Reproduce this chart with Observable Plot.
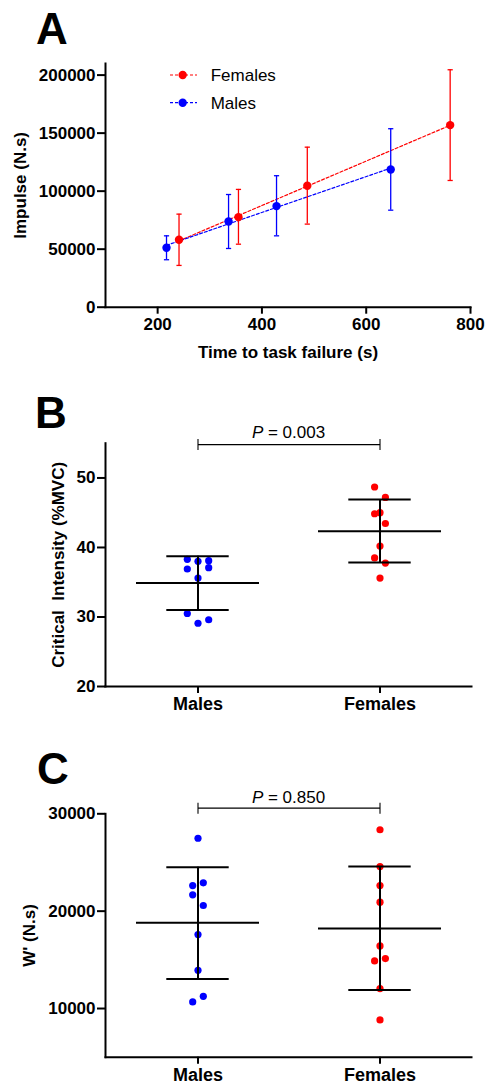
<!DOCTYPE html>
<html><head><meta charset="utf-8">
<script src="https://cdn.jsdelivr.net/npm/d3@7"></script>
<script src="https://cdn.jsdelivr.net/npm/@observablehq/plot@0.6"></script>
<style>
body{margin:0;background:#fff;}
#wrap{position:relative;width:487px;height:1084px;font-family:"Liberation Sans",Arial,sans-serif;}
#wrap > svg{position:absolute;left:0;}
</style></head><body><div id="wrap"></div>
<script>
// ---------- Panel A data ----------
const timeFemales = [241, 355, 487, 761];
const impulseFemales = [58100, 77600, 104600, 156900];
const impulseFemalesLow = [36000, 54300, 71600, 109200];
const impulseFemalesHigh = [80200, 101500, 137900, 204600];
const timeMales = [217, 336, 428, 647];
const impulseMales = [51200, 73900, 87100, 118700];
const impulseMalesLow = [40900, 50600, 61500, 83600];
const impulseMalesHigh = [61500, 97100, 113300, 153800];
const seriesA = ["Females", "Males"];
const ticksAX = [200, 400, 600, 800];
const ticksAY = [0, 50000, 100000, 150000, 200000];

// ---------- Panel B data ----------
const groups = ["Males", "Females"];
const ciMales = [38.3, 38.0, 38.1, 36.9, 37.1, 35.6, 30.5, 29.1, 29.6];
const ciMalesLane = [-1, 0, 1, -1, 1, 0, -1, 0, 1];
const ciFemales = [48.7, 47.2, 44.85, 45.0, 43.45, 40.2, 38.5, 37.75, 35.6];
const ciFemalesLane = [-1, 1, -1, 0, 1, 0, -1, 1, 0];
const ciMean = [34.9, 42.35];
const ciSdLow = [31.0, 37.85];
const ciSdHigh = [38.75, 46.9];
const ciP = "P = 0.003";
const ticksB = [20, 30, 40, 50];

// ---------- Panel C data ----------
const wMales = [27490, 22910, 22630, 21680, 20580, 17600, 13930, 11250, 10680];
const wMalesLane = [0, 1, -1, -1, 1, 0, 0, 1, -1];
const wFemales = [28360, 24580, 22630, 20920, 16430, 15130, 14890, 12050, 8830];
const wFemalesLane = [0, 0, 0, 0, 0, 1, -1, 0, 0];
const wMean = [18800, 18210];
const wSdLow = [13040, 11910];
const wSdHigh = [24510, 24580];
const wP = "P = 0.850";
const ticksC = [10000, 20000, 30000];

const RED = "#ff0000", BLUE = "#0000ff";
const FONT = "'Liberation Sans', Arial, sans-serif";
const wrap = document.getElementById("wrap");

const hLine = {draw(ctx, size) { const r = Math.sqrt(size / Math.PI); ctx.moveTo(-r, 0); ctx.lineTo(r, 0); }};
const vLine = {draw(ctx, size) { const r = Math.sqrt(size / Math.PI); ctx.moveTo(0, -r); ctx.lineTo(0, r); }};

const baseStyle = {fontFamily: FONT, fontSize: "17px", fontWeight: "bold", color: "black", background: "transparent", overflow: "visible"};

// ---------- Panel A ----------
const rowsA = [
  ...timeFemales.map((t, i) => ({sex: "Females", t, imp: impulseFemales[i], lo: impulseFemalesLow[i], hi: impulseFemalesHigh[i]})),
  ...timeMales.map((t, i) => ({sex: "Males", t, imp: impulseMales[i], lo: impulseMalesLow[i], hi: impulseMalesHigh[i]}))
];
const plotA = Plot.plot({
  width: 487, height: 370,
  marginLeft: 105, marginRight: 17, marginTop: 63, marginBottom: 63.3,
  style: baseStyle,
  x: {domain: [100, 800]},
  y: {domain: [0, 210000]},
  color: {domain: seriesA, range: [RED, BLUE]},
  marks: [
    Plot.frame({anchor: "left", strokeWidth: 2}),
    Plot.frame({anchor: "bottom", strokeWidth: 2}),
    Plot.axisY({ticks: ticksAY, tickFormat: "d", tickSize: 8, tickPadding: 2, strokeWidth: 2, label: null}),
    Plot.axisX({ticks: ticksAX, tickFormat: "d", tickSize: 7, tickPadding: 4, strokeWidth: 2, label: null}),
    Plot.linearRegressionY(rowsA, {x: "t", y: "imp", stroke: "sex", ci: 0, strokeDasharray: "3,2", strokeWidth: 1.2}),
    Plot.ruleX(rowsA, {x: "t", y1: "lo", y2: "hi", stroke: "sex", strokeWidth: 1.3}),
    Plot.dot(rowsA, {x: "t", y: "lo", symbol: hLine, r: 2.6, stroke: "sex", fill: "none", strokeWidth: 1.3}),
    Plot.dot(rowsA, {x: "t", y: "hi", symbol: hLine, r: 2.6, stroke: "sex", fill: "none", strokeWidth: 1.3}),
    Plot.dot(rowsA, {x: "t", y: "imp", r: 4.2, fill: "sex", stroke: "none"}),
    Plot.text(["Impulse (N.s)"], {text: d => d, frameAnchor: "left", dx: -84.5, rotate: -90, lineAnchor: "middle", textAnchor: "middle"}),
    Plot.text(["Time to task failure (s)"], {text: d => d, frameAnchor: "bottom", dy: 45, lineAnchor: "middle"})
  ]
});
plotA.style.top = "0px";
wrap.appendChild(plotA);

// ---------- Panels B and C ----------
function groupPanel({height, marginTop, marginBottom, domain, ticks, title, titleDx, males, malesLane, femalesLane, females, maleSpacing, femaleSpacing, mean, sdLow, sdHigh, pText, bracketY, pDy}) {
  const rows = [
    ...males.map((v, i) => ({group: "Males", value: v, lane: malesLane[i], color: BLUE})),
    ...females.map((v, i) => ({group: "Females", value: v, lane: femalesLane[i], color: RED}))
  ];
  const stats = groups.map((g, i) => ({group: g, mean: mean[i], lo: sdLow[i], hi: sdHigh[i]}));
  const dots = [];
  for (const g of groups) {
    const sp = g === "Males" ? maleSpacing : femaleSpacing;
    for (const l of [-1, 0, 1]) {
      dots.push(Plot.dot(rows.filter(d => d.group === g && d.lane === l), {x: "group", y: "value", r: 3.6, fill: "color", stroke: "none", dx: l * sp}));
    }
  }
  const bracket = [{a: "Males", b: "Females", y: bracketY}];
  const ends = groups.map(g => ({group: g, y: bracketY}));
  const svg = Plot.plot({
    width: 487, height,
    marginLeft: 105, marginRight: 16, marginTop, marginBottom,
    style: baseStyle,
    x: {type: "band", domain: groups, paddingInner: 0.325, paddingOuter: 0.165},
    y: {domain},
    marks: [
      Plot.frame({anchor: "left", strokeWidth: 2}),
      Plot.frame({anchor: "bottom", strokeWidth: 2}),
      Plot.axisY({ticks, tickFormat: "d", tickSize: 8, tickPadding: 2, strokeWidth: 2, label: null}),
      Plot.axisX({tickSize: 7, tickPadding: 4, strokeWidth: 2, fontSize: 18, label: null}),
      ...dots,
      Plot.tickY(stats, {x: "group", y: "mean", strokeWidth: 2}),
      Plot.tickY(stats, {x: "group", y: "lo", strokeWidth: 2, insetLeft: 30.3, insetRight: 30.3}),
      Plot.tickY(stats, {x: "group", y: "hi", strokeWidth: 2, insetLeft: 30.3, insetRight: 30.3}),
      Plot.ruleX(stats, {x: "group", y1: "lo", y2: "hi", strokeWidth: 2}),
      Plot.link(bracket, {x1: "a", x2: "b", y1: "y", y2: "y", stroke: "black", strokeWidth: 1.1}),
      Plot.dot(ends, {x: "group", y: "y", symbol: vLine, r: 5.5, stroke: "black", fill: "none", strokeWidth: 1.1}),
      Plot.text([pText], {text: d => d, frameAnchor: "top", dy: pDy, lineAnchor: "bottom", fontWeight: "normal", fontSize: 17}),
      Plot.text([title], {text: d => d, frameAnchor: "left", dx: titleDx, rotate: -90, lineAnchor: "middle", textAnchor: "middle"})
    ]
  });
  d3.select(svg).selectAll("text").filter(function() { return this.textContent === pText; }).each(function() {
    const rest = this.textContent.slice(1);
    this.textContent = "";
    d3.select(this).append("tspan").attr("font-style", "italic").text("P");
    d3.select(this).append("tspan").text(rest);
  });
  return svg;
}

const plotB = groupPanel({
  height: 350, marginTop: 72.7, marginBottom: 34, domain: [20, 55], ticks: ticksB,
  title: "Critical  Intensity (%MVC)", titleDx: -46.7,
  males: ciMales, malesLane: ciMalesLane, females: ciFemales, femalesLane: ciFemalesLane,
  maleSpacing: 10.7, femaleSpacing: 5.4,
  mean: ciMean, sdLow: ciSdLow, sdHigh: ciSdHigh, pText: ciP, bracketY: 54.8, pDy: -5
});
plotB.style.top = "370px";
wrap.appendChild(plotB);

const plotC = groupPanel({
  height: 364, marginTop: 93.3, marginBottom: 27.3, domain: [5000, 30000], ticks: ticksC,
  title: "W' (N.s)", titleDx: -76,
  males: wMales, malesLane: wMalesLane, females: wFemales, femalesLane: wFemalesLane,
  maleSpacing: 5.3, femaleSpacing: 5.4,
  mean: wMean, sdLow: wSdLow, sdHigh: wSdHigh, pText: wP, bracketY: 30580, pDy: -10.5
});
plotC.style.top = "720px";
wrap.appendChild(plotC);

// ---------- Overlay: panel letters and legend ----------
const ov = d3.select(wrap).append("svg").attr("width", 487).attr("height", 1084).style("top", "0px")
  .attr("font-family", FONT);
const letters = [{t: "A", x: 36, y: 43.5}, {t: "B", x: 35, y: 428.3}, {t: "C", x: 37, y: 783.5}];
ov.selectAll("text.letter").data(letters).join("text").attr("class", "letter")
  .attr("x", d => d.x).attr("y", d => d.y).attr("font-size", 44).attr("font-weight", "bold").text(d => d.t);
const legendItems = seriesA.map((s, i) => ({s, color: [RED, BLUE][i], y: 75 + i * 27.7}));
const lg = ov.selectAll("g.leg").data(legendItems).join("g").attr("class", "leg")
  .attr("transform", d => `translate(0,${d.y})`);
lg.append("line").attr("x1", 170).attr("x2", 197).attr("stroke", d => d.color).attr("stroke-width", 1.2).attr("stroke-dasharray", "3,2");
lg.append("circle").attr("cx", 182.7).attr("r", 4.2).attr("fill", d => d.color);
lg.append("text").attr("x", 210.7).attr("dy", "0.35em").attr("font-size", 17).text(d => d.s);
</script></body></html>
